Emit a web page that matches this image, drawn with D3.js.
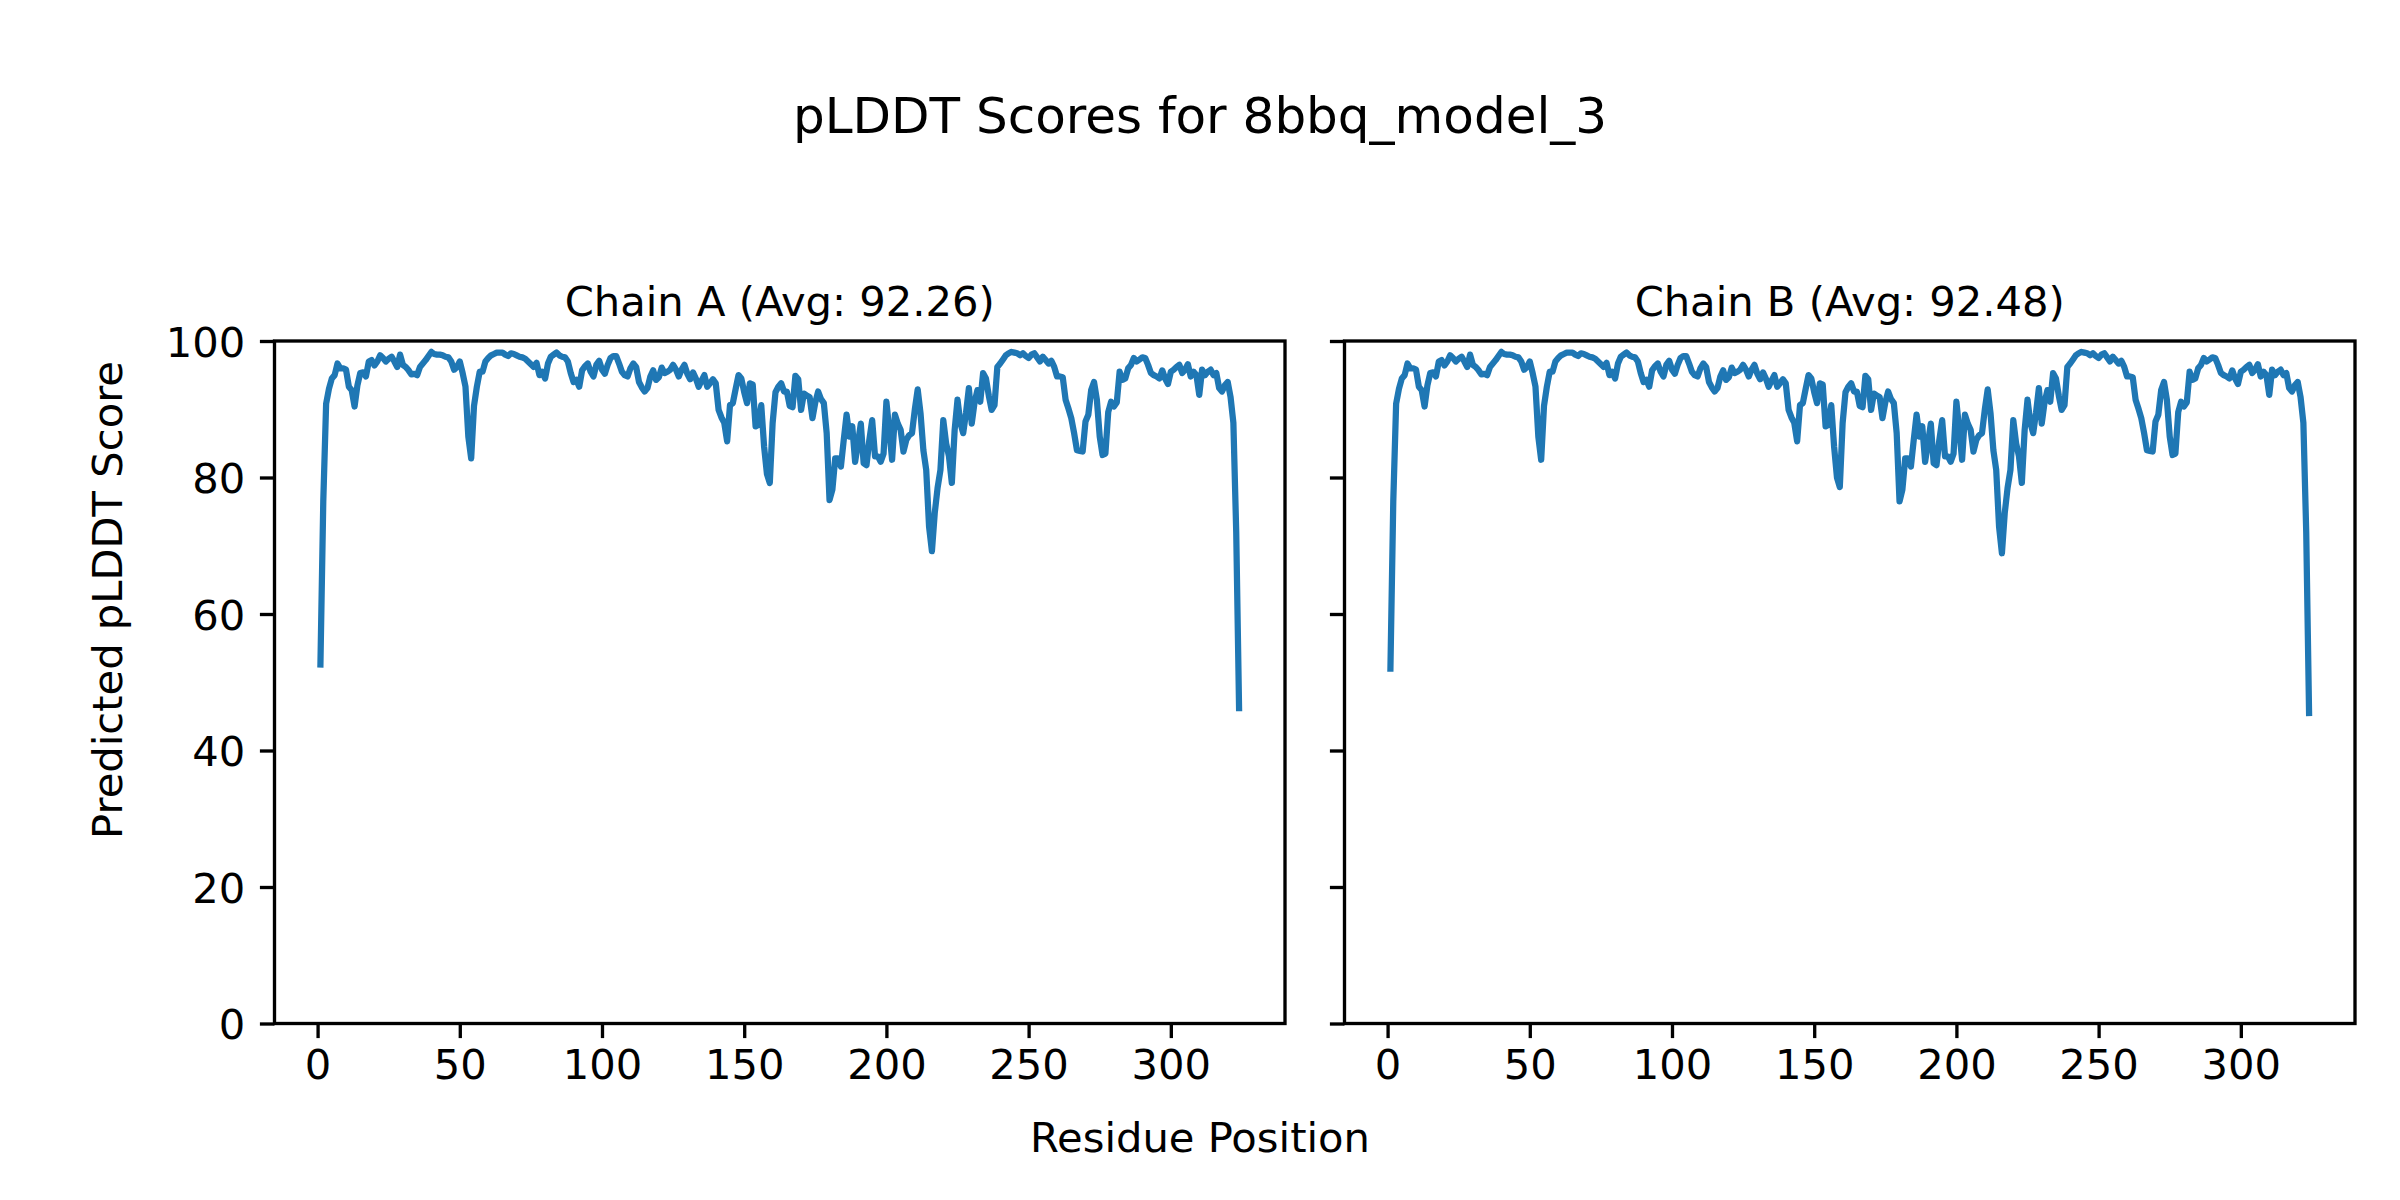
<!DOCTYPE html>
<html>
<head>
<meta charset="utf-8">
<script src="https://cdn.jsdelivr.net/npm/d3@7"></script>
<style>
  html, body { margin: 0; padding: 0; background: #ffffff; }
  svg { display: block; }
  text { font-family: "DejaVu Sans", sans-serif; fill: #000; }
</style>
</head>
<body>
<div id="chart"></div>
<script>
// ---------------- data ----------------
const figTitle = "pLDDT Scores for 8bbq_model_3";
const xLabel = "Residue Position";
const yLabel = "Predicted pLDDT Score";
const chainNames = ["Chain A (Avg: 92.26)", "Chain B (Avg: 92.48)"];
const xTicks = [0, 50, 100, 150, 200, 250, 300];
const yTicks = [0, 20, 40, 60, 80, 100];

const chainA = [
  52.6, 76.5, 90.8, 93.0, 94.5, 95.0, 96.7, 96.0, 96.0, 95.8,
  93.3, 92.8, 90.4, 93.5, 95.3, 95.4, 94.8, 97.0, 97.2, 96.4,
  97.0, 97.9, 97.5, 97.0, 97.4, 97.7, 97.0, 96.2, 98.0, 96.5,
  96.2, 95.7, 95.1, 95.2, 95.0, 96.2, 96.7, 97.2, 97.8, 98.4,
  98.1, 98.0, 98.0, 97.9, 97.7, 97.6, 97.0, 95.8, 96.2, 97.0,
  95.3, 93.3, 86.0, 82.8, 90.5, 93.3, 95.5, 95.5, 97.0, 97.5,
  97.9, 98.1, 98.3, 98.3, 98.3, 98.0, 97.8, 98.2, 98.1, 97.9,
  97.7, 97.6, 97.4, 97.0, 96.6, 96.2, 96.8, 95.0, 95.5, 94.5,
  96.7, 97.7, 98.0, 98.3, 97.9, 97.7, 97.6, 97.0, 95.3, 94.0,
  94.3, 93.3, 95.7, 96.3, 96.7, 95.5, 94.8, 96.5, 97.1, 95.8,
  95.2, 96.5, 97.5, 97.8, 97.8, 96.7, 95.5, 95.0, 94.8, 96.0,
  96.7, 96.2, 94.0, 93.2, 92.6, 93.1, 94.8, 95.7, 94.3, 94.7,
  96.1, 95.3, 95.5, 95.8, 96.5, 95.8, 94.8, 95.8, 96.5, 95.2,
  94.4, 95.4, 94.5, 93.3, 94.2, 95.0, 93.3, 93.8, 94.4, 93.8,
  89.9, 88.8, 88.0, 85.3, 90.6, 90.9, 93.0, 95.0, 94.5, 92.5,
  90.9, 93.8, 93.6, 87.5, 87.7, 90.6, 84.5, 80.5, 79.2, 88.0,
  92.5, 93.3, 93.8, 92.6, 92.6, 90.5, 90.3, 94.9, 94.4, 89.9,
  92.3, 92.0, 91.8, 88.7, 91.0, 92.6, 91.5, 90.9, 86.5, 76.7,
  78.2, 82.8, 82.8, 81.6, 85.5, 89.2, 86.0, 87.5, 82.3, 85.0,
  87.9, 82.1, 81.8, 85.5, 88.4, 83.1, 83.1, 82.3, 83.5, 91.1,
  87.0, 82.6, 89.2, 87.9, 87.0, 83.8, 85.5, 86.2, 86.5, 90.0,
  92.9, 89.4, 84.0, 81.1, 72.8, 69.2, 74.8, 78.5, 81.1, 88.4,
  85.0, 83.1, 79.2, 87.0, 91.4, 88.0, 86.5, 89.5, 93.1, 87.9,
  91.0, 92.8, 91.1, 95.3, 94.5, 92.0, 89.9, 90.6, 96.2, 96.7,
  97.3, 97.9, 98.2, 98.4, 98.3, 98.2, 97.9, 98.2, 97.8, 97.5,
  98.0, 98.2, 97.6, 97.0, 97.7, 97.2, 96.7, 97.1, 96.2, 94.8,
  94.8, 94.7, 91.4, 90.1, 88.7, 86.5, 84.0, 83.9, 83.8, 88.2,
  89.2, 92.8, 94.0, 91.4, 86.0, 83.3, 83.5, 89.6, 91.1, 90.4,
  91.0, 95.5, 94.3, 94.5, 96.0, 96.5, 97.5, 97.0, 97.3, 97.6,
  97.5, 96.5, 95.3, 95.0, 94.8, 94.5, 95.7, 94.5, 93.7, 95.5,
  95.8, 96.2, 96.5, 95.3, 95.8, 96.6, 94.8, 95.5, 95.0, 92.1,
  95.8, 95.0, 95.5, 95.8, 95.0, 95.3, 93.1, 92.6, 93.5, 94.0,
  91.8, 88.0, 72.0, 46.2
];

const chainB = [
  52.0, 76.5, 90.8, 93.0, 94.5, 95.0, 96.7, 96.0, 96.0, 95.8,
  93.3, 92.8, 90.4, 93.5, 95.3, 95.4, 94.8, 97.0, 97.2, 96.4,
  97.0, 97.9, 97.5, 97.0, 97.4, 97.7, 97.0, 96.2, 98.0, 96.5,
  96.2, 95.7, 95.1, 95.2, 95.0, 96.2, 96.7, 97.2, 97.8, 98.4,
  98.1, 98.0, 98.0, 97.9, 97.7, 97.6, 97.0, 95.8, 96.2, 97.0,
  95.3, 93.3, 86.0, 82.6, 90.5, 93.3, 95.5, 95.5, 97.0, 97.5,
  97.9, 98.1, 98.3, 98.3, 98.3, 98.0, 97.8, 98.2, 98.1, 97.9,
  97.7, 97.6, 97.4, 97.0, 96.6, 96.2, 96.8, 95.0, 95.5, 94.5,
  96.7, 97.7, 98.0, 98.3, 97.9, 97.7, 97.6, 97.0, 95.3, 94.0,
  94.3, 93.3, 95.7, 96.3, 96.7, 95.5, 94.8, 96.5, 97.1, 95.8,
  95.2, 96.5, 97.5, 97.8, 97.8, 96.7, 95.5, 95.0, 94.8, 96.0,
  96.7, 96.2, 94.0, 93.2, 92.6, 93.1, 94.8, 95.7, 94.3, 94.7,
  96.1, 95.3, 95.5, 95.8, 96.5, 95.8, 94.8, 95.8, 96.5, 95.2,
  94.4, 95.4, 94.5, 93.3, 94.2, 95.0, 93.3, 93.8, 94.4, 93.8,
  89.9, 88.8, 88.0, 85.3, 90.6, 90.9, 93.0, 95.0, 94.5, 92.5,
  90.9, 93.8, 93.6, 87.5, 87.7, 90.6, 84.5, 80.0, 78.6, 88.0,
  92.5, 93.3, 93.8, 92.6, 92.6, 90.5, 90.3, 94.9, 94.4, 89.9,
  92.3, 92.0, 91.8, 88.7, 91.0, 92.6, 91.5, 90.9, 86.5, 76.5,
  78.2, 82.8, 82.8, 81.6, 85.5, 89.2, 86.0, 87.5, 82.3, 85.0,
  87.9, 82.1, 81.8, 85.5, 88.4, 83.1, 83.1, 82.3, 83.5, 91.1,
  87.0, 82.6, 89.2, 87.9, 87.0, 83.8, 85.5, 86.2, 86.5, 90.0,
  92.9, 89.4, 84.0, 81.1, 72.8, 68.9, 74.8, 78.5, 81.1, 88.4,
  85.0, 83.1, 79.2, 87.0, 91.4, 88.0, 86.5, 89.5, 93.1, 87.9,
  91.0, 92.8, 91.1, 95.3, 94.5, 92.0, 89.9, 90.6, 96.2, 96.7,
  97.3, 97.9, 98.2, 98.4, 98.3, 98.2, 97.9, 98.2, 97.8, 97.5,
  98.0, 98.2, 97.6, 97.0, 97.7, 97.2, 96.7, 97.1, 96.2, 94.8,
  94.8, 94.7, 91.4, 90.1, 88.7, 86.5, 84.0, 83.9, 83.8, 88.2,
  89.2, 92.8, 94.0, 91.4, 86.0, 83.3, 83.5, 89.6, 91.1, 90.4,
  91.0, 95.5, 94.3, 94.5, 96.0, 96.5, 97.5, 97.0, 97.3, 97.6,
  97.5, 96.5, 95.3, 95.0, 94.8, 94.5, 95.7, 94.5, 93.7, 95.5,
  95.8, 96.2, 96.5, 95.3, 95.8, 96.6, 94.8, 95.5, 95.0, 92.1,
  95.8, 95.0, 95.5, 95.8, 95.0, 95.3, 93.1, 92.6, 93.5, 94.0,
  91.8, 88.0, 72.0, 45.5
];

// ---------------- layout ----------------
const W = 2400, H = 1200;
const FS = 41.67;          // 10pt @ 300dpi
const FS_TITLE = 50;       // 12pt @ 300dpi
const axTop = 341, axBottom = 1023.5;
const axesX = [[274.5, 1285], [1344.5, 2355]];
const tickLen = 14.6, tickPad = 14.6, spineW = 3.33;
const lineColor = "#1f77b4";

const svg = d3.select("#chart").append("svg")
  .attr("width", W).attr("height", H)
  .attr("viewBox", `0 0 ${W} ${H}`);

svg.append("rect").attr("width", W).attr("height", H).attr("fill", "#fff");

const series = [chainA, chainB];

series.forEach((vals, k) => {
  const n = vals.length;
  const pts = vals.map((v, i) => ({ r: i + 1, v }));
  const span = n - 1;
  const x = d3.scaleLinear()
    .domain([1 - 0.05 * span, n + 0.05 * span])
    .range(axesX[k]);
  const y = d3.scaleLinear().domain([0, 100]).range([axBottom, axTop]);

  const g = svg.append("g");

  // line
  g.append("path")
    .datum(pts)
    .attr("fill", "none")
    .attr("stroke", lineColor)
    .attr("stroke-width", 6.25)
    .attr("stroke-linejoin", "round")
    .attr("stroke-linecap", "square")
    .attr("d", d3.line().x(d => x(d.r)).y(d => y(d.v)));

  // x axis
  const xAxis = d3.axisBottom(x).tickValues(xTicks).tickSize(tickLen).tickPadding(tickPad).tickSizeOuter(0);
  const gx = g.append("g").attr("transform", `translate(0,${axBottom})`).call(xAxis);
  gx.select(".domain").remove();
  gx.selectAll(".tick line").attr("stroke", "#000").attr("stroke-width", spineW);
  gx.selectAll(".tick text")
    .attr("font-size", FS).attr("font-family", "DejaVu Sans")
    .attr("fill", "#000")
    .attr("dy", null).attr("y", 1079 - axBottom)
    .style("dominant-baseline", "alphabetic");

  // y axis
  const yAxis = d3.axisLeft(y).tickValues(yTicks).tickSize(tickLen).tickPadding(tickPad).tickSizeOuter(0);
  const gy = g.append("g").attr("transform", `translate(${axesX[k][0]},0)`).call(yAxis);
  gy.select(".domain").remove();
  gy.selectAll(".tick line").attr("stroke", "#000").attr("stroke-width", spineW);
  if (k === 0) {
    gy.selectAll(".tick text")
      .attr("font-size", FS).attr("font-family", "DejaVu Sans")
      .attr("fill", "#000")
      .attr("dy", "0.364em");
  } else {
    gy.selectAll(".tick text").remove();
  }

  // spines (frame)
  g.append("rect")
    .attr("x", axesX[k][0]).attr("y", axTop)
    .attr("width", axesX[k][1] - axesX[k][0]).attr("height", axBottom - axTop)
    .attr("fill", "none").attr("stroke", "#000").attr("stroke-width", spineW)
    .attr("stroke-linejoin", "miter");

  // subplot title
  g.append("text")
    .attr("x", (axesX[k][0] + axesX[k][1]) / 2).attr("y", 316)
    .attr("text-anchor", "middle").attr("font-size", FS)
    .text(chainNames[k]);
});

// figure title and labels
svg.append("text")
  .attr("x", 1200).attr("y", 133)
  .attr("text-anchor", "middle").attr("font-size", FS_TITLE)
  .text(figTitle);

svg.append("text")
  .attr("x", 1200).attr("y", 1152)
  .attr("text-anchor", "middle").attr("font-size", FS)
  .text(xLabel);

svg.append("text")
  .attr("transform", "translate(122,600) rotate(-90)")
  .attr("text-anchor", "middle").attr("font-size", FS)
  .text(yLabel);
</script>
</body>
</html>
